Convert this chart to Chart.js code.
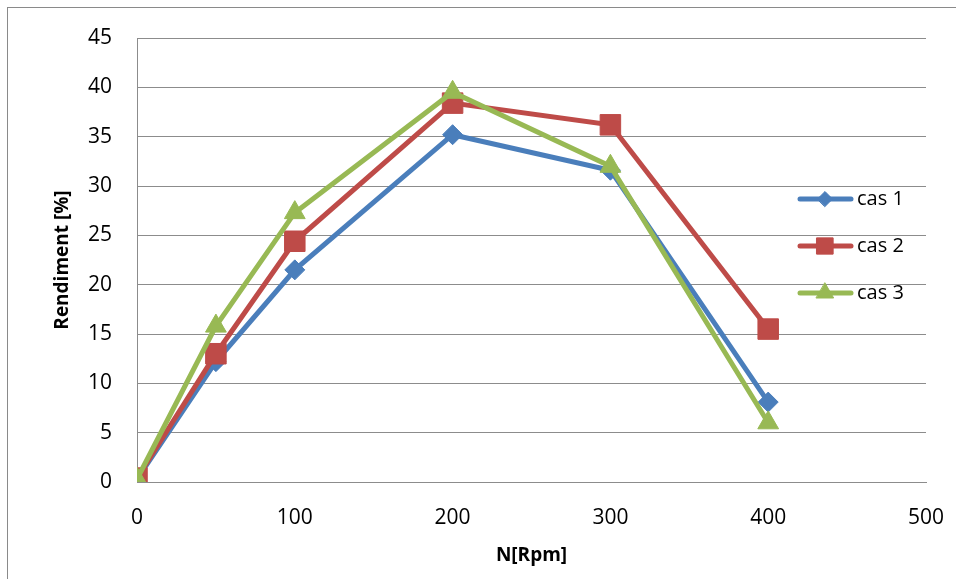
<!DOCTYPE html>
<html>
<head>
<meta charset="utf-8">
<script src="https://cdn.jsdelivr.net/npm/chart.js@4/dist/chart.umd.min.js"></script>
<style>
    html, body { margin:0; padding:0; background:#fff; }
    #wrap { width:956px; height:579px; }
</style>
</head>
<body>
<div id="wrap"><canvas id="rendChart"></canvas></div>
<script>
// ----- Data -----
const rpm = [0, 50, 100, 200, 300, 400];
const cas1 = [0.3, 12.2, 21.5, 35.2, 31.6, 8.1];
const cas2 = [0.4, 13.0, 24.4, 38.4, 36.2, 15.5];
const cas3 = [0.3, 15.8, 27.3, 39.5, 32.0, 6.0];
const seriesNames = ['cas 1', 'cas 2', 'cas 3'];
const xTicks = [0, 100, 200, 300, 400, 500];
const yTicks = [0, 5, 10, 15, 20, 25, 30, 35, 40, 45];

const colors = ['#4A7EBB', '#BE4B48', '#98B954'];
const shapes = ['rectRot', 'rect', 'triangle'];
const radii = [10, 14.5, 12];
const legendRadii = [7.5, 11.5, 10];
const gridGrey = '#8C8C8C';
const fontFam = "'Open Sans', 'Liberation Sans', sans-serif";

function toPoints(vals){
    return vals.map((v, i) => ({ x: rpm[i], y: v }));
}

const allSeries = [cas1, cas2, cas3];

// ----- Plugins: outer frame + side legend -----
const framePlugin = {
    id: 'frame',
    afterDraw(chart){
        const c = chart.ctx;
        c.save();
        c.strokeStyle = '#8A8A8A';
        c.lineWidth = 1;
        c.strokeRect(7.5, 7.5, 1000, 1000);
        c.restore();
    }
};

const sideLegend = {
    id: 'sideLegend',
    afterDraw(chart){
        const c = chart.ctx;
        const rows = [199, 246, 293];
        c.save();
        chart.data.datasets.forEach((ds, i) => {
            const y = rows[i];
            c.strokeStyle = ds.borderColor;
            c.lineWidth = 5;
            c.lineCap = 'round';
            c.beginPath();
            c.moveTo(800, y);
            c.lineTo(851, y);
            c.stroke();
            c.fillStyle = ds.borderColor;
            c.strokeStyle = ds.borderColor;
            c.lineWidth = 1;
            Chart.helpers.drawPoint(c, { pointStyle: shapes[i], radius: legendRadii[i], rotation: 0, borderWidth: 1 }, 825, y);
            c.fillStyle = '#000';
            c.font = "20px " + fontFam;
            c.textAlign = 'left';
            c.textBaseline = 'middle';
            c.fillText(seriesNames[i], 857, y);
        });
        c.restore();
    }
};

// ----- Chart -----
const ctx = document.getElementById('rendChart').getContext('2d');
const rendChart = new Chart(ctx, {
    type: 'line',
    data: {
        datasets: allSeries.map((vals, i) => ({
            label: seriesNames[i],
            data: toPoints(vals),
            borderColor: colors[i],
            backgroundColor: colors[i],
            pointBackgroundColor: colors[i],
            pointBorderColor: colors[i],
            pointBorderWidth: 1,
            borderWidth: 5,
            pointStyle: shapes[i],
            pointRadius: radii[i],
            pointHoverRadius: radii[i],
            tension: 0,
            fill: false,
            order: 3 - i
        }))
    },
    options: {
        responsive: true,
        maintainAspectRatio: false,
        animation: false,
        layout: { padding: { top: 38, right: 30, left: 0, bottom: 0 } },
        plugins: {
            legend: { display: false },
            tooltip: { enabled: false }
        },
        scales: {
            x: {
                type: 'linear',
                min: 0, max: 500,
                afterBuildTicks: s => { s.ticks = xTicks.map(v => ({ value: v })); },
                afterFit: s => { s.height = 97; s.paddingLeft = 0; s.paddingRight = 0; },
                grid: { display: false, drawTicks: false },
                border: { display: true, color: gridGrey, width: 1 },
                ticks: { color: '#000', padding: 23, font: { family: fontFam, size: 21 }, maxRotation: 0 },
                title: {
                    display: true, text: 'N[Rpm]', color: '#000',
                    font: { family: fontFam, size: 19, weight: 'bold' },
                    padding: { top: 0, bottom: 12 }
                }
            },
            y: {
                min: 0, max: 45,
                afterBuildTicks: s => { s.ticks = yTicks.map(v => ({ value: v })); },
                afterFit: s => { s.width = 137; s.paddingTop = 0; s.paddingBottom = 0; },
                grid: { color: gridGrey, lineWidth: 1, drawTicks: false },
                border: { display: true, color: gridGrey, width: 1 },
                ticks: { color: '#000', padding: 25, font: { family: fontFam, size: 21 } },
                title: {
                    display: true, text: 'Rendiment [%]', color: '#000',
                    font: { family: fontFam, size: 19, weight: 'bold' },
                    padding: { top: 51, bottom: 0 }
                }
            }
        }
    },
    plugins: [framePlugin, sideLegend]
});
</script>
</body>
</html>
